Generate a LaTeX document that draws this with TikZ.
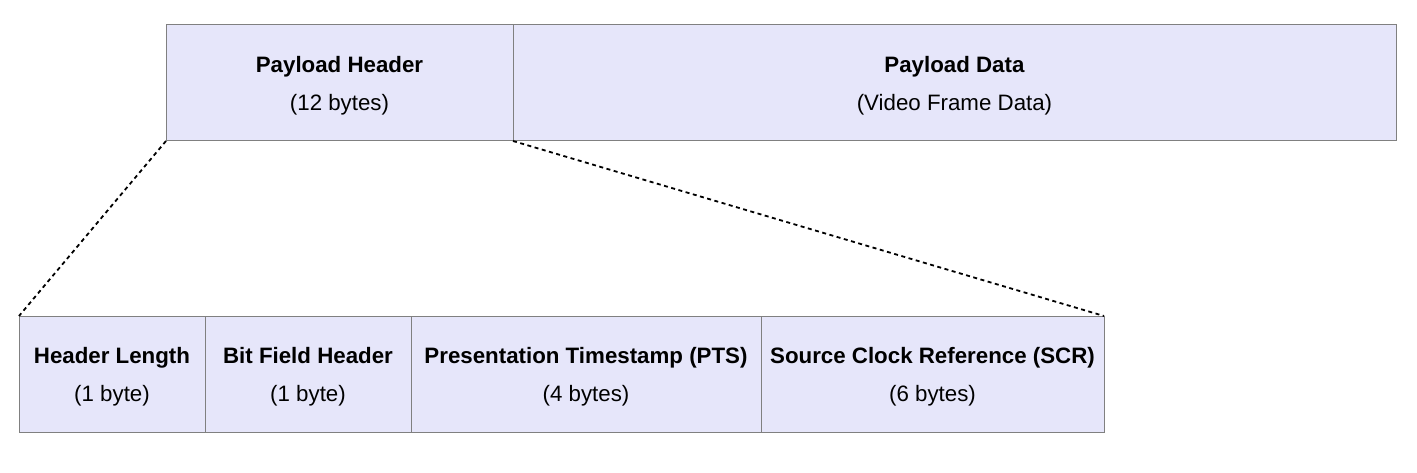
\documentclass[tikz,border=0pt]{standalone}
\usepackage{fontspec}
\setmainfont{Liberation Sans}
\usetikzlibrary{positioning}

% title and size of one field
\newcommand{\fieldtext}[2]{\rule{0pt}{22pt}\textbf{#1}\\(#2)}

\begin{document}
\begin{tikzpicture}[x=1pt, y=-1pt]
    % Colors for the fields
    \definecolor{fieldfill}{RGB}{230,230,250}  % light lavender
    \definecolor{fieldline}{RGB}{128,128,128}  % gray border

    \tikzset{
        field/.style={draw=fieldline, fill=fieldfill, line width=1pt,
            minimum height=116pt, inner sep=0pt, outer sep=0pt, align=center,
            font=\fontsize{22.3}{38}\selectfont},
        zoomline/.style={black, line width=1.8pt, dash pattern=on 4pt off 3.5pt}
    }

    \useasboundingbox (0,0) rectangle (1417,473);

    % Payload: header and data
    \node[field, minimum width=347pt, anchor=north west] (hdr) at (166,25) {\fieldtext{Payload Header}{12 bytes}};
    \node[field, minimum width=883pt, right=0pt of hdr] (data) {\fieldtext{Payload Data}{Video Frame Data}};

    % Header fields
    \node[field, minimum width=186pt, anchor=north west] (len) at (19,316) {\fieldtext{Header Length}{1 byte}};
    \node[field, minimum width=206pt, right=0pt of len] (bfh) {\fieldtext{Bit Field Header}{1 byte}};
    \node[field, minimum width=350pt, right=0pt of bfh] (pts) {\fieldtext{Presentation Timestamp (PTS)}{4 bytes}};
    \node[field, minimum width=343pt, right=0pt of pts] (scr) {\fieldtext{Source Clock Reference (SCR)}{6 bytes}};

    % Zoom lines from the header to its fields
    \draw[zoomline] (hdr.south west) -- (len.north west);
    \draw[zoomline] (hdr.south east) -- (scr.north east);

\end{tikzpicture}
\end{document}
